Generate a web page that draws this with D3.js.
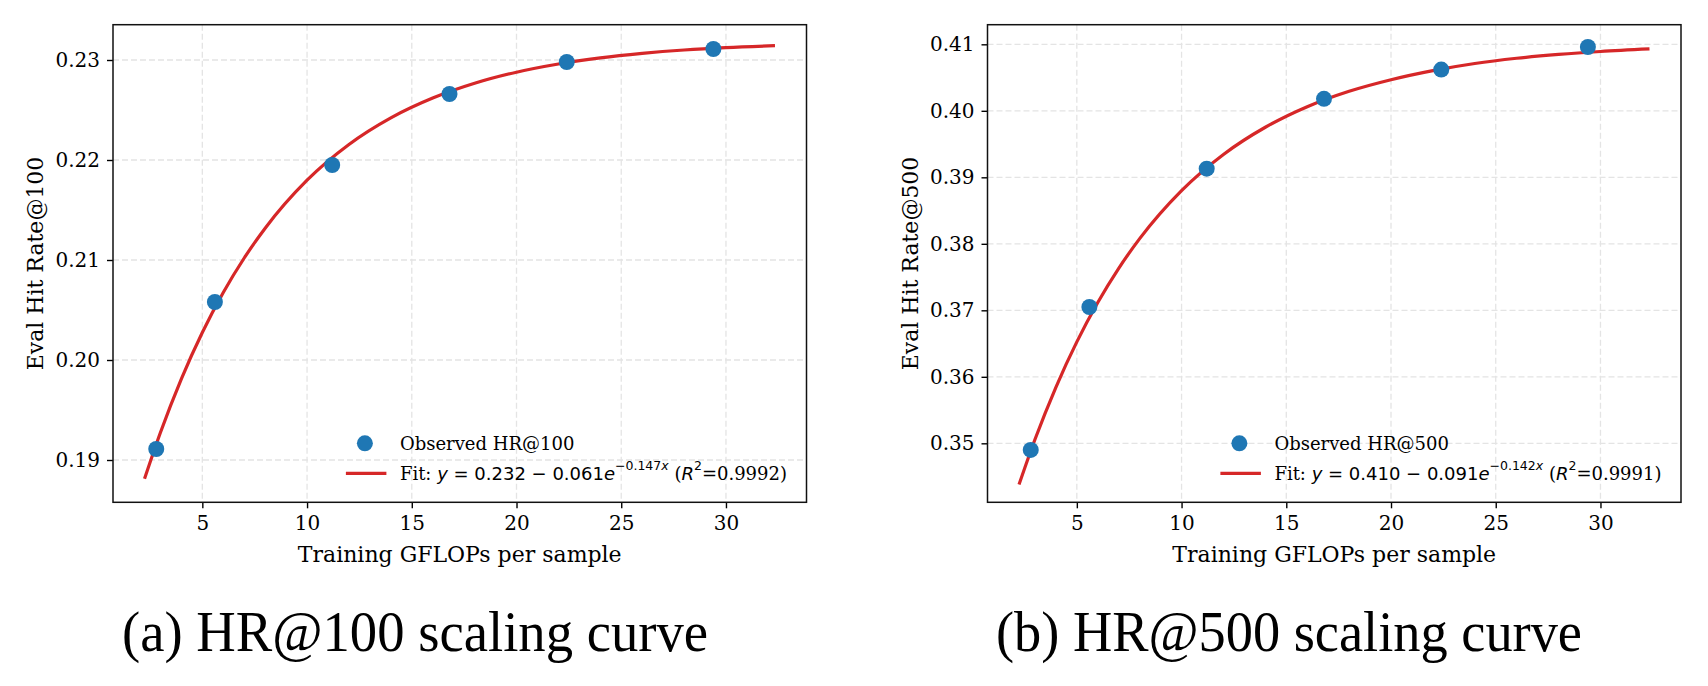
<!DOCTYPE html>
<html>
<head>
<meta charset="utf-8">
<script src="https://cdn.jsdelivr.net/npm/d3@7"></script>
<style>
  body { margin: 0; background: #fff; }
  svg { display: block; }
  .tick text { font-family: "DejaVu Serif", serif; font-size: 20px; fill: #000; }
  .tick line { stroke: #000; stroke-width: 1.4; }
</style>
</head>
<body>
<svg id="chart" width="1708" height="686"></svg>
<script>
// observed points
const gflops = [2.8, 5.6, 11.2, 16.8, 22.4, 29.4];
const hr100 = [0.1911, 0.2058, 0.2195, 0.2266, 0.2298, 0.2311];
const hr500 = [0.3490, 0.3705, 0.3913, 0.4018, 0.4062, 0.4096];

// fitted curves
const fitX   = [2.24, 3, 4, 5, 6, 7, 8, 10, 12, 14, 16, 18, 20, 22, 24, 26, 28, 30, 32.34];
const fit100 = [0.18812, 0.19275, 0.19812, 0.20275, 0.20675, 0.21020, 0.21318, 0.21798, 0.22155, 0.22421,
                0.22619, 0.22767, 0.22878, 0.22960, 0.23021, 0.23066, 0.23100, 0.23124, 0.23143];
const fit500 = [0.34380, 0.35057, 0.35843, 0.36526, 0.37118, 0.37632, 0.38078, 0.38800, 0.39344, 0.39753,
                0.40062, 0.40294, 0.40468, 0.40605, 0.40712, 0.40790, 0.40848, 0.40892, 0.40930];

const xTicks = [5, 10, 15, 20, 25, 30];
const yTicks100 = [0.19, 0.20, 0.21, 0.22, 0.23];
const yTicks500 = [0.35, 0.36, 0.37, 0.38, 0.39, 0.40, 0.41];

const panels = [
  { left: 113, ys: hr100, fit: fit100, yDomain: [0.18577, 0.23353], yTicks: yTicks100,
    yLabel: "Eval Hit Rate@100", obs: "Observed HR@100",
    eq: ["0.232", "0.061", "0.147", "0.9992"], caption: "(a) HR@100 scaling curve", capX: 415 },
  { left: 987.5, ys: hr500, fit: fit500, yDomain: [0.34113, 0.41295], yTicks: yTicks500,
    yLabel: "Eval Hit Rate@500", obs: "Observed HR@500",
    eq: ["0.410", "0.091", "0.142", "0.9991"], caption: "(b) HR@500 scaling curve", capX: 1289 }
];

const W = 693.5, plotTop = 24.7, plotBottom = 502.3;
const blue = "#1f77b4", red = "#d62728";
const svg = d3.select("#chart");

panels.forEach(p => {
  const x = d3.scaleLinear().domain([0.735, 33.845]).range([p.left, p.left + W]);
  const y = d3.scaleLinear().domain(p.yDomain).range([plotBottom, plotTop]);
  const g = svg.append("g");

  // grid
  g.selectAll(".gx").data(xTicks).enter().append("line")
    .attr("x1", d => x(d)).attr("x2", d => x(d)).attr("y1", plotTop).attr("y2", plotBottom)
    .attr("stroke", "#e4e4e4").attr("stroke-width", 1.3).attr("stroke-dasharray", "6,3");
  g.selectAll(".gy").data(p.yTicks).enter().append("line")
    .attr("x1", p.left).attr("x2", p.left + W).attr("y1", d => y(d)).attr("y2", d => y(d))
    .attr("stroke", "#e4e4e4").attr("stroke-width", 1.3).attr("stroke-dasharray", "6,3");

  // axes
  g.append("g").attr("transform", `translate(0,${plotBottom})`)
    .call(d3.axisBottom(x).tickValues(xTicks).tickSize(6).tickPadding(8).tickFormat(d3.format("d")))
    .call(a => a.select(".domain").remove());
  g.append("g").attr("transform", `translate(${p.left},0)`)
    .call(d3.axisLeft(y).tickValues(p.yTicks).tickSize(6).tickPadding(7).tickFormat(d3.format(".2f")))
    .call(a => a.select(".domain").remove());

  // fit curve
  const line = d3.line().x(d => x(d[0])).y(d => y(d[1])).curve(d3.curveMonotoneX);
  g.append("path").datum(fitX.map((v, i) => [v, p.fit[i]]))
    .attr("d", line).attr("fill", "none").attr("stroke", red).attr("stroke-width", 3.2);

  // observed points
  g.selectAll(".pt").data(gflops.map((v, i) => [v, p.ys[i]])).enter().append("circle")
    .attr("cx", d => x(d[0])).attr("cy", d => y(d[1])).attr("r", 8).attr("fill", blue);

  // frame
  g.append("rect").attr("x", p.left).attr("y", plotTop).attr("width", W).attr("height", plotBottom - plotTop)
    .attr("fill", "none").attr("stroke", "#111").attr("stroke-width", 1.5);

  // axis labels
  g.append("text").attr("x", p.left + W / 2).attr("y", 561.5).attr("text-anchor", "middle")
    .style("font-family", "DejaVu Serif").style("font-size", "22px").text("Training GFLOPs per sample");
  g.append("text").attr("transform", `translate(${p.left - 70},${(plotTop + plotBottom) / 2}) rotate(-90)`)
    .attr("text-anchor", "middle")
    .style("font-family", "DejaVu Serif").style("font-size", "22px").text(p.yLabel);

  // legend
  const lg = g.append("g");
  lg.append("circle").attr("cx", 19).attr("cy", -30).attr("r", 8).attr("fill", blue);
  lg.append("line").attr("x1", 0).attr("x2", 40.5).attr("y1", 0).attr("y2", 0)
    .attr("stroke", red).attr("stroke-width", 3.2);
  lg.append("text").attr("x", 54).attr("y", -30).attr("dominant-baseline", "central")
    .style("font-family", "DejaVu Serif").style("font-size", "18px").text(p.obs);
  const t = lg.append("text").attr("x", 54).attr("y", 0).attr("dominant-baseline", "central")
    .style("font-family", "DejaVu Serif").style("font-size", "18px");
  const sans = "DejaVu Sans";
  t.append("tspan").text("Fit: ");
  t.append("tspan").style("font-family", sans).style("font-style", "italic").text("y");
  t.append("tspan").style("font-family", sans).text(` = ${p.eq[0]} \u2212 ${p.eq[1]}`);
  t.append("tspan").style("font-family", sans).style("font-style", "italic").text("e");
  t.append("tspan").attr("dy", -8).style("font-family", sans).style("font-size", "12.5px").text(`\u2212${p.eq[2]}`);
  t.append("tspan").style("font-family", sans).style("font-style", "italic").style("font-size", "12.5px").text("x");
  t.append("tspan").attr("dy", 8).text(" (");
  t.append("tspan").style("font-family", sans).style("font-style", "italic").text("R");
  t.append("tspan").attr("dy", -8).style("font-family", sans).style("font-size", "12.5px").text("2");
  t.append("tspan").attr("dy", 8).text(`=${p.eq[3]})`);
  const bb = lg.node().getBBox();
  lg.attr("transform", `translate(${p.left + W - 19.5 - (bb.x + bb.width)},${plotBottom - 29})`);

  // caption
  svg.append("text").attr("x", p.capX).attr("y", 651).attr("text-anchor", "middle")
    .attr("textLength", 586).attr("lengthAdjust", "spacingAndGlyphs")
    .style("font-family", "Liberation Serif").style("font-size", "57px").text(p.caption);
});
</script>
</body>
</html>
